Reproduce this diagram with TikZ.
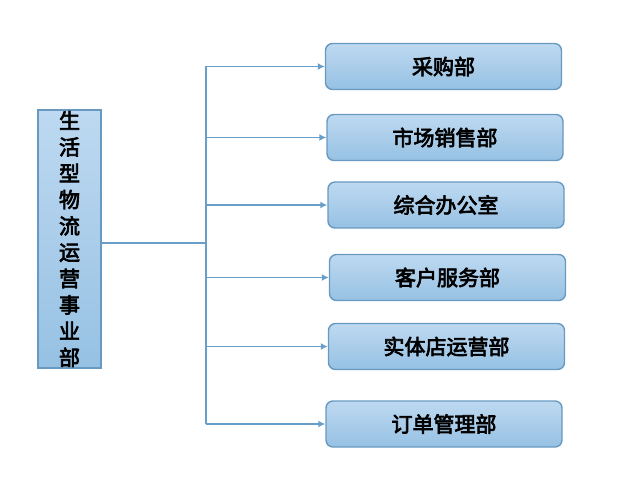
\documentclass[tikz,border=0pt]{standalone}
\usepackage{fontspec}
\newfontfamily\cjk{Noto Sans CJK SC}
\newcommand{\heavy}[1]{\special{pdf:literal direct 2 Tr 0.7 w}#1\special{pdf:literal direct 0 Tr}}
\usetikzlibrary{arrows.meta}
\definecolor{boxtop}{RGB}{190,217,241}
\definecolor{boxbot}{RGB}{150,193,227}
\definecolor{boxline}{RGB}{104,153,192}
\definecolor{conn}{RGB}{104,158,200}
\tikzset{
  dept/.style={draw=boxline, line width=1.4pt, rounded corners=7pt,
    top color=boxtop, bottom color=boxbot,
    minimum width=236pt, minimum height=46pt, inner sep=0pt,
    font=\cjk\fontsize{21}{24}\selectfont, text=black},
  mainbox/.style={draw=boxline, line width=1.4pt,
    top color=boxtop, bottom color=boxbot,
    minimum width=63pt, minimum height=258pt, inner sep=0pt,
    align=center, font=\cjk\fontsize{21}{26.3}\selectfont, text=black},
  conn/.style={draw=conn, line width=1.8pt},
  arr/.style={conn, -{Latex[length=7pt,width=7pt]}}
}
\begin{document}
\begin{tikzpicture}[x=1pt,y=-1pt]
\useasboundingbox (0,0) rectangle (629,481);
\node[mainbox] (m) at (69.5,239) {\heavy{生}\\\heavy{活}\\\heavy{型}\\\heavy{物}\\\heavy{流}\\\heavy{运}\\\heavy{营}\\\heavy{事}\\\heavy{业}\\\heavy{部}};
\node[dept] (b1) at (443.5,66.5) {\heavy{采购部}};
\node[dept] (b2) at (445,137.5) {\heavy{市场销售部}};
\node[dept] (b3) at (446,205) {\heavy{综合办公室}};
\node[dept] (b4) at (447.5,277.5) {\heavy{客户服务部}};
\node[dept] (b5) at (446.5,346.5) {\heavy{实体店运营部}};
\node[dept] (b6) at (444,424) {\heavy{订单管理部}};
\coordinate (j) at (206,243);
\coordinate (top) at (206,66.5);
\coordinate (bot) at (206,424);
\draw[conn] (m.east |- j) -- (j);
\draw[conn] (top) -- (bot);
\draw[arr] (top) -- (b1.west);
\draw[arr] (b2.west -| j) -- (b2.west);
\draw[arr] (b3.west -| j) -- (b3.west);
\draw[arr] (b4.west -| j) -- (b4.west);
\draw[arr] (b5.west -| j) -- (b5.west);
\draw[arr] (bot) -- (b6.west);
\end{tikzpicture}
\end{document}
